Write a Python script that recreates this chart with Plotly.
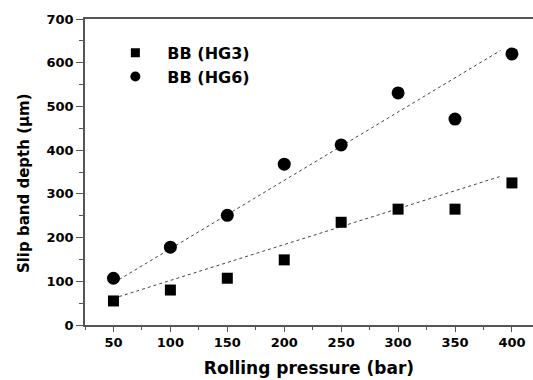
import plotly.graph_objects as go

pressure = [50, 100, 150, 200, 250, 300, 350, 400]
hg3 = [55, 80, 107, 149, 235, 265, 265, 325]
hg6 = [107, 178, 251, 368, 412, 531, 471, 620]

fit_x = [55, 390]
fit_hg3 = [65, 340]
fit_hg6 = [104, 628]

x_ticks = [50, 100, 150, 200, 250, 300, 350, 400]
y_ticks = [0, 100, 200, 300, 400, 500, 600, 700]

FONT = "DejaVu Sans"

fig = go.Figure()
fig.add_trace(go.Scatter(x=fit_x, y=fit_hg6, mode="lines", showlegend=False,
                         line=dict(color="#444444", width=1, dash="3px,3px")))
fig.add_trace(go.Scatter(x=fit_x, y=fit_hg3, mode="lines", showlegend=False,
                         line=dict(color="#444444", width=1, dash="3px,3px")))
fig.add_trace(go.Scatter(x=pressure, y=hg3, mode="markers", showlegend=False,
                         marker=dict(symbol="square", size=11, color="black")))
fig.add_trace(go.Scatter(x=pressure, y=hg6, mode="markers", showlegend=False,
                         marker=dict(symbol="circle", size=13, color="black")))
# legend entries (smaller symbols, as in the reference legend)
fig.add_trace(go.Scatter(x=[None], y=[None], mode="markers", name="BB (HG3)",
                         marker=dict(symbol="square", size=9, color="black")))
fig.add_trace(go.Scatter(x=[None], y=[None], mode="markers", name="BB (HG6)",
                         marker=dict(symbol="circle", size=10, color="black")))

axis_common = dict(showgrid=False, zeroline=False, showline=True,
                   linecolor="#555555", linewidth=1.5, ticks="outside",
                   tickcolor="#555555", tickwidth=1,
                   tickfont=dict(family=FONT, size=13, color="black", weight="bold"))

fig.update_xaxes(range=[25, 418.5], tickvals=x_ticks, mirror=True, ticklen=5,
                 minor=dict(ticks="outside", ticklen=3, tickcolor="#555555", dtick=25, tick0=25),
                 title=dict(text="Rolling pressure (bar)",
                            font=dict(family=FONT, size=17, color="black", weight="bold"),
                            standoff=13),
                 **axis_common)
fig.update_yaxes(range=[0, 700], tickvals=y_ticks, ticklen=7,
                 minor=dict(ticks="outside", ticklen=4, tickcolor="#555555", dtick=50, tick0=0),
                 **axis_common)

fig.add_annotation(text="Slip band depth (µm)", textangle=-90,
                   xref="paper", yref="paper", x=-0.136, y=0.464,
                   xanchor="center", yanchor="middle", showarrow=False,
                   font=dict(family=FONT, size=15, color="black", weight="bold"))

fig.update_layout(
    width=533, height=380,
    margin=dict(l=85, r=0, t=19, b=55),
    paper_bgcolor="white", plot_bgcolor="white",
    font=dict(family=FONT, color="black"),
    showlegend=True,
    legend=dict(x=0.041, y=0.945, xanchor="left", yanchor="top", bgcolor="rgba(0,0,0,0)",
                font=dict(family=FONT, size=16, color="black", weight="bold"), itemwidth=54,
                tracegroupgap=0),
)

fig.write_html("out.html", config={"displayModeBar": False},
               post_script="document.body.style.margin='0';document.body.style.overflow='hidden';")
